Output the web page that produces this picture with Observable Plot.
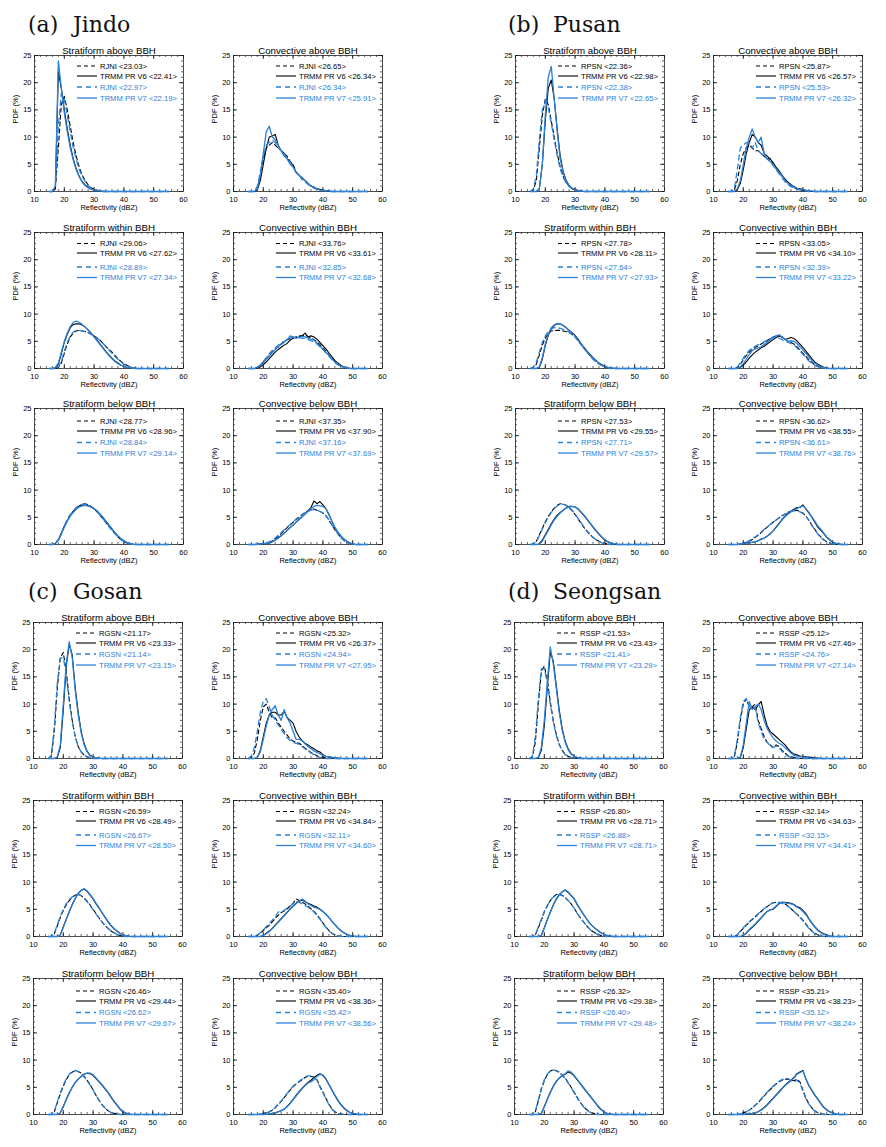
<!DOCTYPE html>
<html><head><meta charset="utf-8">
<script src="https://cdn.jsdelivr.net/npm/d3@7"></script>
<script src="https://cdn.jsdelivr.net/npm/@observablehq/plot@0.6"></script>
<style>
body{margin:0;background:#fff;}
#root{position:relative;width:886px;height:1147px;background:#fff;overflow:hidden;}
.panel{position:absolute;}
</style></head><body><div id="root"></div>
<script>
// ---------- data ----------
const dbz = [15,16,17,18,19,20,21,22,23,24,25,26,27,28,29,30,31,32,33,34,35,36,37,38,39,40,41,42,43,44,45,46,47,48,49,50,51,52,53,54,55];
const xTicks = [10,20,30,40,50,60];
const yTicks = [0,5,10,15,20,25];
const stationNames = ["Jindo","Pusan","Gosan","Seongsan"];
const stationLetters = ["(a)","(b)","(c)","(d)"];
const radarCodes = ["RJNI","RPSN","RGSN","RSSP"];
const panelTitles = ["Stratiform above BBH","Convective above BBH","Stratiform within BBH","Convective within BBH","Stratiform below BBH","Convective below BBH"];
const prNames = ["TRMM PR V6","TRMM PR V7"];

// series order in each panel: [radar (vs V6), TRMM PR V6, radar (vs V7), TRMM PR V7]
const JD_SA = [
 [0,0,0.5,8,16,17.5,15,12,9,6.5, 4.5,3,2,1.2,0.7,0.4,0.2,0.1,0.05,0, 0,0,0,0,0,0,0,0,0,0, 0,0,0,0,0,0,0,0,0,0,0],
 [0,0,0.5,22,19,15,11.5,8.5,6,4.2, 2.8,1.8,1.2,0.8,0.5,0.3,0.2,0.1,0.05,0, 0,0,0,0,0,0,0,0,0,0, 0,0,0,0,0,0,0,0,0,0,0],
 [0,0,1,12,18,17,14,11,8,6, 4,2.8,1.8,1.1,0.6,0.3,0.2,0.1,0,0, 0,0,0,0,0,0,0,0,0,0, 0,0,0,0,0,0,0,0,0,0,0],
 [0,0,1,24,19,14.5,11,8,5.8,4, 2.7,1.7,1.1,0.7,0.4,0.3,0.2,0.1,0,0, 0,0,0,0,0,0,0,0,0,0, 0,0,0,0,0,0,0,0,0,0,0]];
const JD_CA = [
 [0,0,0,0.5,3,6,8,8.5,9,8.5, 8,7.5,7,6.5,5.5,5,3.5,3,2.5,2, 1.5,1,0.8,0.5,0.3,0.2,0.1,0,0,0, 0,0,0,0,0,0,0,0,0,0,0],
 [0,0,0,0.3,2,5,8,10,10.2,10.5, 8.5,7.5,7,6,5.5,4.8,3.5,3,2.5,2, 1.5,1,0.8,0.5,0.4,0.3,0.1,0.1,0,0, 0,0,0,0,0,0,0,0,0,0,0],
 [0,0,0,1,3.5,6.5,8.5,9,9.5,9, 8,7.5,7,6,5.5,4.5,3.5,3,2.2,1.8, 1.3,1,0.6,0.4,0.3,0.2,0.1,0,0,0, 0,0,0,0,0,0,0,0,0,0,0],
 [0,0,0,0.5,3,7,11,12,10,9.5, 8.5,7.5,6.5,6,5,4.5,3.5,3,2.5,2, 1.5,1,0.7,0.5,0.3,0.2,0.1,0.1,0,0, 0,0,0,0,0,0,0,0,0,0,0]];
const JD_SW = [
 [0,0,0,0.2,1,2.8,4.5,5.8,6.5,6.9, 7,6.9,6.8,6.6,6.3,6,5.6,5.2,4.6,4, 3.5,3,2.4,1.8,1.3,0.9,0.6,0.3,0.15,0.05, 0,0,0,0,0,0,0,0,0,0,0],
 [0,0,0.1,0.8,2.7,4.8,6.3,7.5,8.1,8.2, 8.2,8,7.6,7.1,6.5,5.9,5.2,4.5,3.8,3.1, 2.5,1.9,1.4,1,0.6,0.4,0.2,0.1,0,0, 0,0,0,0,0,0,0,0,0,0,0],
 [0,0,0,0.3,1.3,3.2,4.8,6,6.7,7, 7,6.9,6.8,6.6,6.3,6,5.6,5.1,4.6,4, 3.4,2.8,2.2,1.7,1.2,0.8,0.5,0.3,0.1,0, 0,0,0,0,0,0,0,0,0,0,0],
 [0,0,0.2,1,3,5,6.5,7.7,8.5,8.7, 8.5,8.1,7.6,7,6.4,5.8,5.1,4.4,3.7,3, 2.4,1.8,1.3,0.9,0.6,0.4,0.2,0.1,0.05,0, 0,0,0,0,0,0,0,0,0,0,0]];
const JD_CW = [
 [0,0,0,0.2,0.6,1.2,1.8,2.4,3,3.6, 4,4.5,5,5.3,5.5,5.6,5.8,6,6,6.1, 5.9,5.6,5.3,4.9,4.4,3.8,3.2,2.5,1.9,1.3, 0.8,0.4,0.2,0.1,0,0,0,0,0,0,0],
 [0,0,0,0.1,0.3,0.7,1.2,1.8,2.4,3, 3.5,3.9,4.3,4.6,5.2,5.6,5.7,5.8,6,6.5, 5.8,6,5.8,5.4,4.8,4.2,3.6,2.9,2.2,1.5, 1,0.6,0.3,0.15,0.05,0,0,0,0,0,0],
 [0,0,0,0.2,0.7,1.3,2,2.7,3.3,3.8, 4.3,4.7,5,5.3,5.6,5.7,5.8,5.7,5.6,5.5, 5.3,5.1,4.9,4.5,4,3.5,2.9,2.3,1.7,1.1, 0.7,0.4,0.2,0.1,0,0,0,0,0,0,0],
 [0,0,0,0.2,0.5,1,1.7,2.3,2.9,3.5, 4,4.4,4.8,5.3,6,5.8,5.6,5.7,5.9,5.8, 5.6,5.4,5.2,4.7,4.1,3.6,3,2.4,1.8,1.2, 0.8,0.5,0.25,0.1,0,0,0,0,0,0,0]];
const JD_SB = [
 [0,0,0.2,0.9,2.1,3.4,4.5,5.4,6.1,6.7, 7.1,7.4,7.5,7.3,7,6.6,6,5.4,4.7,4, 3.3,2.6,2,1.4,0.9,0.6,0.3,0.15,0.05,0, 0,0,0,0,0,0,0,0,0,0,0],
 [0,0,0.2,0.8,2,3.3,4.4,5.3,6,6.6, 7,7.2,7.2,7.1,6.9,6.6,6.1,5.5,4.9,4.2, 3.5,2.8,2.1,1.5,1,0.6,0.3,0.15,0.05,0, 0,0,0,0,0,0,0,0,0,0,0],
 [0,0,0.2,0.9,2.1,3.4,4.6,5.5,6.2,6.8, 7.2,7.4,7.4,7.2,6.9,6.5,6,5.4,4.7,4, 3.3,2.6,2,1.4,0.9,0.5,0.3,0.1,0.05,0, 0,0,0,0,0,0,0,0,0,0,0],
 [0,0,0.2,0.8,1.9,3.2,4.3,5.2,5.9,6.5, 6.9,7.1,7.2,7.1,6.9,6.6,6.2,5.6,5,4.3, 3.6,2.9,2.2,1.6,1.1,0.7,0.4,0.2,0.05,0, 0,0,0,0,0,0,0,0,0,0,0]];
const JD_CB = [
 [0,0,0,0.05,0.1,0.15,0.25,0.4,0.6,1, 1.5,2,2.6,3.1,3.6,4.1,4.6,5,5.5,5.9, 6.2,6.4,6.5,6.3,6.1,5.8,5.3,4.5,3.6,2.7, 2,1.3,0.8,0.4,0.2,0.05,0,0,0,0,0],
 [0,0,0,0.05,0.1,0.15,0.2,0.3,0.5,0.8, 1.2,1.6,2.1,2.6,3.1,3.6,4.1,4.6,5.1,5.6, 6.2,6.8,8,7.5,7.9,7.3,6.6,5.5,4.3,3.1, 2.3,1.6,1,0.6,0.3,0.1,0,0,0,0,0],
 [0,0,0,0.05,0.1,0.2,0.3,0.5,0.8,1.2, 1.7,2.2,2.7,3.2,3.7,4.2,4.7,5.1,5.5,5.8, 6.1,6.3,6.4,6.3,6.1,5.8,5.3,4.6,3.7,2.8, 2,1.3,0.8,0.4,0.2,0.05,0,0,0,0,0],
 [0,0,0,0.05,0.1,0.15,0.2,0.3,0.5,0.8, 1.2,1.6,2.1,2.6,3.1,3.6,4.1,4.6,5.1,5.6, 6.1,6.5,7,7.2,7.1,7,6.6,5.6,4.3,3.2, 2.3,1.6,1,0.6,0.3,0.1,0,0,0,0,0]];

const PS_SA = [
 [0,0.3,2,8,14,17,16,13,10,7, 4.5,2.8,1.7,1,0.5,0.3,0.1,0,0,0, 0,0,0,0,0,0,0,0,0,0, 0,0,0,0,0,0,0,0,0,0,0],
 [0,0,0,0.5,5,13,19,20.5,17,11.5, 6.5,3.7,2,1.1,0.6,0.4,0.2,0.1,0,0, 0,0,0,0,0,0,0,0,0,0, 0,0,0,0,0,0,0,0,0,0,0],
 [0,0.5,3,9.5,15,16.5,15.5,12.5,9.5,6.5, 4.2,2.6,1.5,0.9,0.5,0.3,0.1,0,0,0, 0,0,0,0,0,0,0,0,0,0, 0,0,0,0,0,0,0,0,0,0,0],
 [0,0,0,0.5,5,14,21,23,17,11, 6,3.5,1.8,1,0.6,0.3,0.15,0.1,0,0, 0,0,0,0,0,0,0,0,0,0, 0,0,0,0,0,0,0,0,0,0,0]];
const PS_CA = [
 [0,0,0.3,2,5,7,8,8.5,8,7.5, 7.5,7,6.5,6,6,5,4.2,3.5,2.8,2, 1.5,1,0.7,0.5,0.3,0.2,0.1,0,0,0, 0,0,0,0,0,0,0,0,0,0,0],
 [0,0,0,0.3,1.5,4,7,9,10.5,10, 9,8.5,7,6.5,6,5.3,4.5,3.8,3,2.3, 1.7,1.3,0.9,0.6,0.5,0.4,0.2,0.1,0,0, 0,0,0,0,0,0,0,0,0,0,0],
 [0,0,0.5,4,8,8.5,9,9,8,9, 7.5,7,6.5,6,5.5,4.8,4,3.3,2.5,1.8, 1.3,0.9,0.6,0.4,0.3,0.2,0.1,0,0,0, 0,0,0,0,0,0,0,0,0,0,0],
 [0,0,0,0.5,2,5,8,10,11.5,10, 9,10,7,6,5.5,5,4.2,3.5,3,2, 1.5,1.2,0.8,0.6,0.4,0.3,0.2,0.1,0.1,0, 0,0,0,0,0,0,0,0,0,0,0]];
const PS_SW = [
 [0,0.2,0.8,2.5,4.3,5.6,6.4,6.9,7,7, 7,6.9,6.8,6.6,6.3,5.8,5.1,4.4,3.7,3, 2.4,1.8,1.3,0.9,0.6,0.3,0.15,0.05,0,0, 0,0,0,0,0,0,0,0,0,0,0],
 [0,0,0,0.2,1.7,4.2,6.1,7.3,7.9,8.2, 8.2,7.9,7.5,7,6.6,6.1,5.4,4.6,3.9,3.2, 2.6,2,1.5,1,0.7,0.4,0.2,0.1,0.05,0, 0,0,0,0,0,0,0,0,0,0,0],
 [0,0.3,1.2,3,4.8,6,6.8,7.3,7.5,7.5, 7.4,7.2,7,6.7,6.3,5.8,5.1,4.4,3.7,3, 2.3,1.7,1.2,0.8,0.5,0.3,0.1,0,0,0, 0,0,0,0,0,0,0,0,0,0,0],
 [0,0,0,0.3,2,4.5,6.3,7.5,8,8.3, 8.2,7.9,7.5,7,6.5,6,5.2,4.5,3.8,3.1, 2.5,1.9,1.4,1,0.6,0.4,0.2,0.1,0.05,0, 0,0,0,0,0,0,0,0,0,0,0]];
const PS_CW = [
 [0,0,0,0.2,0.8,1.6,2.4,3,3.5,3.9, 4.2,4.5,4.8,5.1,5.5,5.8,6,6.1,5.8,5.4, 5,4.8,4.5,4,3.4,2.8,2.2,1.6,1.1,0.7, 0.4,0.2,0.1,0,0,0,0,0,0,0,0],
 [0,0,0,0,0.2,0.6,1.2,1.9,2.5,3, 3.4,3.8,4.1,4.5,4.9,5.3,5.7,6,5.8,5.3, 5.5,5.7,5.5,5.1,4.5,3.9,3.2,2.5,1.8,1.2, 0.8,0.5,0.2,0.1,0,0,0,0,0,0,0],
 [0,0,0,0.3,1,1.9,2.7,3.3,3.8,4.1, 4.4,4.6,4.9,5.2,5.5,5.8,5.8,5.6,5.3,5, 4.8,4.6,4.3,3.8,3.2,2.6,2,1.4,1,0.6, 0.3,0.15,0.05,0,0,0,0,0,0,0,0],
 [0,0,0,0,0.3,0.9,1.7,2.6,3.3,3.6, 3.8,4,4.4,4.8,5.2,5.6,6,6.2,5.8,5.4, 5,5.1,5,4.6,4,3.4,2.8,2.1,1.5,1, 0.6,0.3,0.15,0.05,0,0,0,0,0,0,0]];
const PS_SB = [
 [0,0.1,0.6,1.8,3,4.2,5.2,6,6.7,7.2, 7.5,7.4,7.2,6.8,6.2,5.5,4.7,3.9,3.1,2.4, 1.8,1.3,0.9,0.6,0.3,0.2,0.1,0,0,0, 0,0,0,0,0,0,0,0,0,0,0],
 [0,0,0,0.1,0.8,1.8,2.8,3.8,4.7,5.4, 5.9,6.3,6.7,7,7,6.9,6.5,5.9,5.3,4.6, 3.9,3.2,2.5,1.9,1.3,0.8,0.5,0.3,0.15,0.05, 0,0,0,0,0,0,0,0,0,0,0],
 [0,0.1,0.5,1.6,2.8,4,5,5.9,6.6,7.1, 7.4,7.4,7.2,6.9,6.3,5.6,4.8,4,3.2,2.5, 1.9,1.3,0.9,0.6,0.3,0.2,0.1,0,0,0, 0,0,0,0,0,0,0,0,0,0,0],
 [0,0,0,0.05,0.6,1.6,2.6,3.6,4.5,5.2, 5.8,6.3,6.7,6.9,7,6.9,6.6,6,5.4,4.7, 4,3.3,2.6,2,1.4,0.9,0.5,0.3,0.15,0.05, 0,0,0,0,0,0,0,0,0,0,0]];
const PS_CB = [
 [0,0,0,0,0.1,0.2,0.4,0.6,0.9,1.3, 1.7,2.2,2.7,3.2,3.6,4.1,4.5,4.9,5.3,5.6, 5.9,6.1,6.2,6.3,6.1,5.8,5.2,4.5,3.6,2.8, 2,1.4,0.9,0.5,0.3,0.1,0,0,0,0,0],
 [0,0,0,0,0.1,0.25,0.3,0.3,0.4,0.5, 0.7,1,1.2,1.5,2,2.5,3.2,3.9,4.6,5.2, 5.7,6.1,6.5,6.8,6.8,7.3,6.5,5.8,5,4.1, 3.2,2.6,2,1.3,0.8,0.4,0.2,0.1,0,0,0],
 [0,0,0,0,0.1,0.2,0.4,0.7,1,1.4, 1.8,2.3,2.8,3.2,3.7,4.1,4.5,4.9,5.3,5.6, 5.9,6.1,6.2,6.2,6,5.7,5.2,4.4,3.5,2.7, 1.9,1.3,0.8,0.5,0.2,0.1,0,0,0,0,0],
 [0,0,0,0,0.1,0.2,0.3,0.3,0.4,0.5, 0.7,0.9,1.2,1.5,1.9,2.5,3.1,3.8,4.5,5.1, 5.6,6,6.3,6.6,6.9,7.1,6.6,5.9,5.1,4.3, 3.4,2.8,2.1,1.4,0.9,0.5,0.2,0.1,0,0,0]];

const GS_SA = [
 [0,0.5,5,13,18.5,19.5,16,11,7,4, 2.2,1.2,0.6,0.3,0.15,0.05,0,0,0,0, 0,0,0,0,0,0,0,0,0,0, 0,0,0,0,0,0,0,0,0,0,0],
 [0,0,0,0.2,2,9,17,21,19,13, 8.5,5,2.7,1.3,0.6,0.3,0.15,0.05,0,0, 0,0,0,0,0,0,0,0,0,0, 0,0,0,0,0,0,0,0,0,0,0],
 [0,0.6,6,14,18.5,18.5,15.5,10.5,6.8,4, 2.2,1.2,0.6,0.3,0.1,0,0,0,0,0, 0,0,0,0,0,0,0,0,0,0, 0,0,0,0,0,0,0,0,0,0,0],
 [0,0,0,0.3,2.5,10,17.5,21.5,18.5,12.5, 8,4.7,2.5,1.2,0.5,0.25,0.1,0.05,0,0, 0,0,0,0,0,0,0,0,0,0, 0,0,0,0,0,0,0,0,0,0,0]];
const GS_CA = [
 [0,0.2,1,3.5,7,9.5,10,8.5,7.5,7.5, 6.5,5.8,5,4.3,3.6,3.2,3,2.8,2.4,1.9, 1.5,1.1,0.8,0.5,0.3,0.2,0.1,0,0,0, 0,0,0,0,0,0,0,0,0,0,0],
 [0,0,0,0.2,1.5,4,6.5,8,8.5,8.5, 8,8,8.7,7.5,7,6.5,5,4,3.3,2.8, 2.5,2.1,1.8,1.4,1.2,0.7,0.4,0.3,0.2,0.1, 0.1,0,0,0,0,0,0,0,0,0,0],
 [0,0.5,2,5,8.5,10.5,11,9.5,8,7, 6.2,5.3,4.6,3.8,3.3,3,2.8,2.6,2.2,1.8, 1.4,1,0.7,0.4,0.2,0.1,0,0,0,0, 0,0,0,0,0,0,0,0,0,0,0],
 [0,0,0,0.2,1.2,3.5,6,8,9,9.7, 8,7,9,7.5,6.5,5,3.5,3.5,3.3,2.7, 2.2,1.8,1.4,1.1,0.9,0.6,0.4,0.3,0.2,0.1, 0,0,0,0,0,0,0,0,0,0,0]];
const GS_SW = [
 [0,0,0.5,2,3.5,4.8,5.8,6.6,7.2,7.6, 7.8,7.5,7.1,6.5,5.8,5,4.2,3.4,2.7,2, 1.5,1,0.7,0.4,0.2,0.1,0,0,0,0, 0,0,0,0,0,0,0,0,0,0,0],
 [0,0,0,0,0.3,1.8,3.2,4.6,5.9,7, 7.9,8.5,8.7,8.3,7.6,6.9,6,5.2,4.4,3.5, 2.7,2,1.4,1,0.6,0.3,0.15,0.05,0,0, 0,0,0,0,0,0,0,0,0,0,0],
 [0,0,0.6,2.2,3.7,5,6,6.8,7.3,7.6, 7.7,7.5,7,6.4,5.7,4.9,4.1,3.4,2.7,2, 1.5,1,0.7,0.4,0.2,0.1,0,0,0,0, 0,0,0,0,0,0,0,0,0,0,0],
 [0,0,0,0,0.3,1.7,3.1,4.5,5.8,7, 7.9,8.5,8.8,8.4,7.7,7,6.1,5.3,4.4,3.6, 2.8,2.1,1.5,1,0.6,0.3,0.15,0.05,0,0, 0,0,0,0,0,0,0,0,0,0,0]];
const GS_CW = [
 [0,0,0,0.2,0.6,1.1,1.6,2.1,2.7,3.3, 3.9,4.4,4.7,5.1,5.6,6.1,6.9,6.6,6.3,6, 5.6,5.1,4.6,4,3.3,2.5,1.8,1.1,0.6,0.3, 0.15,0.05,0,0,0,0,0,0,0,0,0],
 [0,0,0,0,0,0.2,0.6,1,1.5,2.1, 2.7,3.3,3.9,4.5,5.1,5.6,6.1,6.5,6.7,6.4, 6.1,5.9,5.6,5.4,5,4.6,4.1,3.5,2.8,2.2, 1.6,1.1,0.7,0.4,0.2,0.1,0,0,0,0,0],
 [0,0,0,0.3,0.7,1.2,1.8,2.4,3,3.6, 4.5,4.5,4.8,5.2,5.6,6,6.5,6.3,6,5.7, 5.4,5,4.5,3.9,3.2,2.4,1.7,1,0.6,0.3, 0.1,0,0,0,0,0,0,0,0,0,0],
 [0,0,0,0,0,0.2,0.5,0.9,1.4,2, 2.6,3.2,3.8,4.4,5,5.5,6,6.5,6.9,6.5, 6,5.7,5.4,5.2,5,4.6,4.1,3.5,2.8,2.2, 1.6,1.1,0.7,0.4,0.2,0.1,0,0,0,0,0]];
const GS_SB = [
 [0,0,0.5,2.2,3.8,5.2,6.4,7.3,7.8,8, 7.9,7.6,7,6.3,5.5,4.5,3.5,2.6,1.8,1.2, 0.7,0.4,0.2,0.1,0,0,0,0,0,0, 0,0,0,0,0,0,0,0,0,0,0],
 [0,0,0,0,0.3,1.5,2.8,4,5,5.9, 6.5,7,7.4,7.6,7.5,7.2,6.6,6,5.4,4.7, 4,3.2,2.4,1.7,1,0.5,0.2,0.1,0,0, 0,0,0,0,0,0,0,0,0,0,0],
 [0,0,0.6,2.4,4,5.4,6.6,7.4,7.9,8.1, 7.9,7.5,6.9,6.2,5.4,4.5,3.5,2.6,1.8,1.2, 0.7,0.4,0.2,0.1,0,0,0,0,0,0, 0,0,0,0,0,0,0,0,0,0,0],
 [0,0,0,0,0.3,1.4,2.7,3.9,5,5.9, 6.5,7,7.4,7.6,7.6,7.3,6.7,6.1,5.5,4.8, 4.1,3.3,2.5,1.8,1.1,0.6,0.3,0.1,0,0, 0,0,0,0,0,0,0,0,0,0,0]];
const GS_CB = [
 [0,0,0,0,0.05,0.2,0.3,0.5,0.8,1.2, 1.8,2.4,3.1,3.8,4.5,5.1,5.6,6,6.4,6.8, 7,7,6.9,6.4,5.2,4.2,3,1.9,1.1,0.5, 0.2,0.1,0,0,0,0,0,0,0,0,0],
 [0,0,0,0,0,0,0.05,0.1,0.2,0.3, 0.5,0.7,1,1.5,2.1,2.8,3.5,4.2,4.8,5.4, 5.9,6.3,6.8,7.2,7.5,7.2,6.5,5.5,4.5,3.5, 2.6,1.8,1.2,0.7,0.4,0.2,0.1,0,0,0,0],
 [0,0,0,0,0.1,0.2,0.3,0.5,0.8,1.3, 1.9,2.5,3.2,3.9,4.6,5.2,5.7,6.1,6.5,6.9, 7.1,7.1,6.8,6.3,5,4,2.9,1.8,1,0.5, 0.2,0.1,0,0,0,0,0,0,0,0,0],
 [0,0,0,0,0,0,0.05,0.1,0.2,0.3, 0.5,0.7,1,1.4,2,2.7,3.4,4.1,4.7,5.3, 5.8,6,6.4,7,7.4,7.3,6.6,5.6,4.6,3.6, 2.7,1.9,1.3,0.8,0.4,0.2,0.1,0,0,0,0]];

const SS_SA = [
 [0,0.3,3,10,16,17,14.5,10.5,7,4.5, 2.6,1.5,0.8,0.4,0.2,0.1,0,0,0,0, 0,0,0,0,0,0,0,0,0,0, 0,0,0,0,0,0,0,0,0,0,0],
 [0,0,0,0.1,1.5,6,13,19.5,18,13.5, 9,5.5,3.2,1.8,0.9,0.4,0.2,0.1,0,0, 0,0,0,0,0,0,0,0,0,0, 0,0,0,0,0,0,0,0,0,0,0],
 [0,0.4,4,11,16.5,16.5,14,10,6.8,4.3, 2.5,1.4,0.7,0.4,0.2,0.1,0,0,0,0, 0,0,0,0,0,0,0,0,0,0, 0,0,0,0,0,0,0,0,0,0,0],
 [0,0,0,0.2,2,7,14,20.5,17.5,13, 8.5,5.2,3,1.6,0.8,0.4,0.2,0.1,0,0, 0,0,0,0,0,0,0,0,0,0, 0,0,0,0,0,0,0,0,0,0,0]];
const SS_CA = [
 [0,0,0.3,3,7,10,11,9.5,9.5,10, 7,5.5,4,3,2.5,2,2.5,2.2,1.5,1, 0.5,0.3,0.2,0.1,0,0,0,0,0,0, 0,0,0,0,0,0,0,0,0,0,0],
 [0,0,0,0,0.2,2,5.5,9,9.5,9, 9.8,10.5,8,6,5,4.5,4,3.5,3,2.5, 1.8,1.2,0.8,0.7,0.4,0.4,0.3,0.2,0.2,0.1, 0.1,0,0,0,0,0,0,0,0,0,0],
 [0,0,0.5,3.5,7.5,10.5,11,9.5,9.5,9.5, 6.5,5,3.5,3,2.3,2,2.3,2,1.3,0.8, 0.4,0.2,0.1,0,0,0,0,0,0,0, 0,0,0,0,0,0,0,0,0,0,0],
 [0,0,0,0,0.3,2.5,6.5,10.5,9,9.5, 10,9,7,5.5,4.6,3.8,3.2,2.8,2.5,2, 1.5,1,0.6,0.5,0.3,0.3,0.2,0.1,0,0, 0,0,0,0,0,0,0,0,0,0,0]];
const SS_SW = [
 [0,0,0.3,1.6,3,4.5,5.6,6.6,7.3,7.7, 7.8,7.6,7.2,6.6,6,5.2,4.3,3.5,2.8,2.1, 1.5,1,0.7,0.4,0.2,0.1,0,0,0,0, 0,0,0,0,0,0,0,0,0,0,0],
 [0,0,0,0,0.2,1.6,3.1,4.5,5.8,6.9, 7.7,8.2,8.5,8.1,7.5,6.9,5.9,5,4.2,3.4, 2.6,2,1.5,1.1,0.7,0.4,0.2,0.1,0,0, 0,0,0,0,0,0,0,0,0,0,0],
 [0,0,0.4,1.8,3.2,4.6,5.7,6.6,7.2,7.6, 7.7,7.5,7.1,6.6,6,5.2,4.3,3.5,2.8,2.1, 1.5,1,0.6,0.4,0.2,0.1,0,0,0,0, 0,0,0,0,0,0,0,0,0,0,0],
 [0,0,0,0,0.2,1.5,3,4.4,5.7,6.8, 7.6,8.2,8.6,8.2,7.6,7,6,5.1,4.2,3.4, 2.6,2,1.5,1.1,0.7,0.4,0.2,0.1,0,0, 0,0,0,0,0,0,0,0,0,0,0]];
const SS_CW = [
 [0,0,0,0.3,0.9,1.5,2.1,2.6,3.1,3.6, 4.1,4.6,5.1,5.5,5.9,6.2,6.3,6.3,6.2,6, 5.6,5.1,4.6,4.1,3.6,3,2.3,1.6,1,0.6, 0.3,0.1,0,0,0,0,0,0,0,0,0],
 [0,0,0,0,0,0.2,0.6,1.2,1.7,2.2, 2.8,3.4,4,4.6,4.9,5,5.5,6,6.3,6.3, 6.2,6.1,5.9,5.5,5.3,4.8,4.2,3.3,2.5,1.8, 1.2,0.8,0.5,0.3,0.1,0,0,0,0,0,0],
 [0,0,0,0.3,1,1.6,2.2,2.7,3.2,3.7, 4.2,4.7,5.1,5.5,5.9,6.2,6.3,6.2,6.1,5.9, 5.5,5.1,4.6,4.1,3.5,2.9,2.2,1.5,1,0.5, 0.3,0.1,0,0,0,0,0,0,0,0,0],
 [0,0,0,0,0,0.2,0.7,1.3,1.8,2.3, 2.9,3.5,4.1,4.6,4.9,5.1,5.6,6.1,6.3,6.2, 6.1,6,5.8,5.4,5.1,4.6,4,3.2,2.4,1.7, 1.1,0.7,0.4,0.2,0.1,0,0,0,0,0,0]];
const SS_SB = [
 [0,0,0.5,2.5,4.6,6.2,7.3,8,8.2,8.1, 7.8,7.3,6.7,5.9,5,4.1,3.2,2.3,1.6,1, 0.6,0.3,0.15,0.05,0,0,0,0,0,0, 0,0,0,0,0,0,0,0,0,0,0],
 [0,0,0,0,0.2,1.5,2.8,4.1,5.2,6.1, 6.7,7.1,7.4,7.8,7.6,7.1,6.4,5.7,5,4.3, 3.6,2.9,2.2,1.5,0.9,0.5,0.2,0.1,0,0, 0,0,0,0,0,0,0,0,0,0,0],
 [0,0,0.6,2.7,4.8,6.4,7.4,8,8.2,8, 7.7,7.2,6.6,5.8,4.9,4,3.1,2.2,1.5,0.9, 0.5,0.3,0.1,0,0,0,0,0,0,0, 0,0,0,0,0,0,0,0,0,0,0],
 [0,0,0,0,0.2,1.4,2.7,4,5.1,6, 6.7,7.2,7.5,8,7.8,7.2,6.5,5.8,5.1,4.4, 3.7,3,2.3,1.6,1,0.5,0.2,0.1,0,0, 0,0,0,0,0,0,0,0,0,0,0]];
const SS_CB = [
 [0,0,0,0,0.1,0.3,0.5,0.8,1.2,1.7, 2.2,2.8,3.4,4,4.6,5.1,5.6,6,6.3,6.5, 6.5,6.3,6.2,6.5,6,4.5,3,2,1.2,0.7, 0.3,0.15,0.05,0,0,0,0,0,0,0,0],
 [0,0,0,0,0,0,0.1,0.15,0.2,0.3, 0.5,0.9,1.3,1.8,2.4,3,3.6,4.2,4.8,5.4, 5.9,6.3,6.8,7.5,7.8,8.1,6.5,5.3,4.4,3.5, 2.8,2,1.3,0.8,0.5,0.3,0.1,0,0,0,0],
 [0,0,0,0,0.1,0.3,0.5,0.8,1.2,1.7, 2.3,2.9,3.5,4.1,4.7,5.2,5.7,6.1,6.4,6.6, 6.6,6.2,6,6.3,5.8,4.3,2.9,1.9,1.1,0.6, 0.3,0.1,0,0,0,0,0,0,0,0,0],
 [0,0,0,0,0,0,0.1,0.15,0.2,0.3, 0.5,0.8,1.2,1.7,2.3,2.9,3.5,4.1,4.7,5.3, 5.8,6.2,6.7,7.4,7.7,8,6.6,5.4,4.5,3.6, 2.9,2.1,1.4,0.9,0.5,0.3,0.1,0,0,0,0]];

// legend means <..> per panel: [radar, PR V6, radar, PR V7]
const JD_means = [[23.03,22.41,22.97,22.19],[26.65,26.34,26.34,25.91],[29.06,27.62,28.89,27.34],[33.76,33.61,32.85,32.68],[28.77,28.96,28.84,29.14],[37.35,37.90,37.16,37.69]];
const PS_means = [[22.36,22.98,22.38,22.65],[25.87,26.57,25.53,26.32],[27.78,28.11,27.64,27.93],[33.05,34.10,32.39,33.22],[27.53,29.55,27.71,29.57],[36.62,38.55,36.61,38.76]];
const GS_means = [[21.17,23.33,21.14,23.15],[25.32,26.37,24.94,27.95],[26.59,28.49,26.67,28.50],[32.24,34.84,32.11,34.60],[26.46,29.44,26.62,29.67],[35.40,38.36,35.42,38.56]];
const SS_means = [[21.53,23.43,21.41,23.29],[25.12,27.46,24.76,27.14],[26.80,28.71,26.88,28.71],[32.14,34.63,32.15,34.41],[26.32,29.38,26.40,29.48],[35.21,38.23,35.12,38.24]];

// ---------- layout ----------
const BLUE = "#2b80d8";
const FONT = '"Liberation Sans", Arial, Helvetica, sans-serif';
const stations = [
  {panels:[JD_SA,JD_CA,JD_SW,JD_CW,JD_SB,JD_CB], means: JD_means, cols:[34,233], rows:[55,232,408], title:[28,32]},
  {panels:[PS_SA,PS_CA,PS_SW,PS_CW,PS_SB,PS_CB], means: PS_means, cols:[515,713], rows:[55,232,408], title:[508,32]},
  {panels:[GS_SA,GS_CA,GS_SW,GS_CW,GS_SB,GS_CB], means: GS_means, cols:[33,233], rows:[622,800,978], title:[28,599]},
  {panels:[SS_SA,SS_CA,SS_SW,SS_CW,SS_SB,SS_CB], means: SS_means, cols:[514,713], rows:[622,800,978], title:[508,599]}
];
const legendOffsets = [[11,21,32,43],[11.5,21,35,45.5],[13,23,34.5,45]];
const root = document.getElementById("root");
const W = 149, H = 136, mL = 36, mR = 6, mT = 18, mB = 26;
const xMinor = d3.range(10, 61, 2);
const yMinor = d3.range(0, 25.01, 1);
const seriesStyle = [
  {stroke:"#000", dash:"4,3", w:1.1},
  {stroke:"#000", dash:null, w:1.1},
  {stroke:BLUE, dash:"5,4", w:1.3},
  {stroke:BLUE, dash:null, w:1.3}];

function makePanel(series, means, code, title, rowKind, left, top) {
  const lines = series.map((vals, k) => Plot.line(
    vals.map((v, i) => ({x: dbz[i], y: v})),
    {x: "x", y: "y", stroke: seriesStyle[k].stroke, strokeWidth: seriesStyle[k].w,
     strokeDasharray: seriesStyle[k].dash || undefined}));
  const svg = Plot.plot({
    width: mL + W + mR, height: mT + H + mB,
    marginLeft: mL, marginRight: mR, marginTop: mT, marginBottom: mB,
    x: {domain: [10, 60]}, y: {domain: [0, 25]},
    style: {fontFamily: FONT, fontSize: "7.5px", background: "transparent", overflow: "visible", color: "#000"},
    marks: [
      Plot.tickX(xMinor, {x: d => d, insetTop: H - 2, stroke: "#000", strokeWidth: 0.6}),
      Plot.tickX(xMinor, {x: d => d, insetBottom: H - 2, stroke: "#000", strokeWidth: 0.6}),
      Plot.tickX(xTicks, {x: d => d, insetTop: H - 4, stroke: "#000", strokeWidth: 0.8}),
      Plot.tickX(xTicks, {x: d => d, insetBottom: H - 4, stroke: "#000", strokeWidth: 0.8}),
      Plot.tickY(yMinor, {y: d => d, insetRight: W - 2, stroke: "#000", strokeWidth: 0.6}),
      Plot.tickY(yMinor, {y: d => d, insetLeft: W - 2, stroke: "#000", strokeWidth: 0.6}),
      Plot.tickY(yTicks, {y: d => d, insetRight: W - 4, stroke: "#000", strokeWidth: 0.8}),
      Plot.tickY(yTicks, {y: d => d, insetLeft: W - 4, stroke: "#000", strokeWidth: 0.8}),
      Plot.frame({stroke: "#222", strokeWidth: 0.8}),
      Plot.axisX({ticks: xTicks, tickSize: 0, tickPadding: 5, label: null, fontSize: 7.5}),
      Plot.axisY({ticks: yTicks, tickSize: 0, tickPadding: 3, label: null, fontSize: 7.5}),
      ...lines,
      Plot.text([title], {frameAnchor: "top", dy: -8.5, fontSize: 9.7}),
      Plot.text(["Reflectivity (dBZ)"], {frameAnchor: "bottom", dy: 18.5, fontSize: 7.5}),
      Plot.text(["PDF (%)"], {frameAnchor: "left", dx: -19, rotate: -90, fontSize: 7.5})
    ]
  });
  // legend
  const labels = [`${code} <${means[0].toFixed(2)}>`, `${prNames[0]} <${means[1].toFixed(2)}>`,
                  `${code} <${means[2].toFixed(2)}>`, `${prNames[1]} <${means[3].toFixed(2)}>`];
  const g = d3.select(svg).append("g").attr("font-family", FONT).attr("font-size", 7.6)
    .attr("text-anchor", "start");
  legendOffsets[rowKind].forEach((off, k) => {
    const y = mT + off;
    g.append("line").attr("x1", mL + 43).attr("x2", mL + 63).attr("y1", y).attr("y2", y)
      .attr("stroke", seriesStyle[k].stroke).attr("stroke-width", seriesStyle[k].w)
      .attr("stroke-dasharray", seriesStyle[k].dash);
    g.append("text").attr("x", mL + 66).attr("y", y).attr("dy", "0.35em")
      .attr("text-anchor", "start")
      .attr("fill", k < 2 ? "#000" : BLUE).text(labels[k]);
  });
  const div = document.createElement("div");
  div.className = "panel";
  div.style.left = (left - mL) + "px";
  div.style.top = (top - mT) + "px";
  div.appendChild(svg);
  root.appendChild(div);
}

stations.forEach((st, s) => {
  st.panels.forEach((series, p) => {
    const r = Math.floor(p / 2), c = p % 2;
    makePanel(series, st.means[p], radarCodes[s], panelTitles[p], r, st.cols[c], st.rows[r]);
  });
});

// station titles
const over = d3.select(root).append("svg").attr("width", 886).attr("height", 1147)
  .style("position", "absolute").style("left", 0).style("top", 0).style("pointer-events", "none");
stations.forEach((st, s) => {
  const t = over.append("text").attr("x", st.title[0]).attr("y", st.title[1])
    .attr("font-family", '"DejaVu Serif", "Liberation Serif", serif').attr("font-size", 22).attr("fill", "#111");
  t.append("tspan").text(stationLetters[s]);
  t.append("tspan").attr("x", st.title[0] + 45).text(stationNames[s]);
});
</script>
</body></html>
